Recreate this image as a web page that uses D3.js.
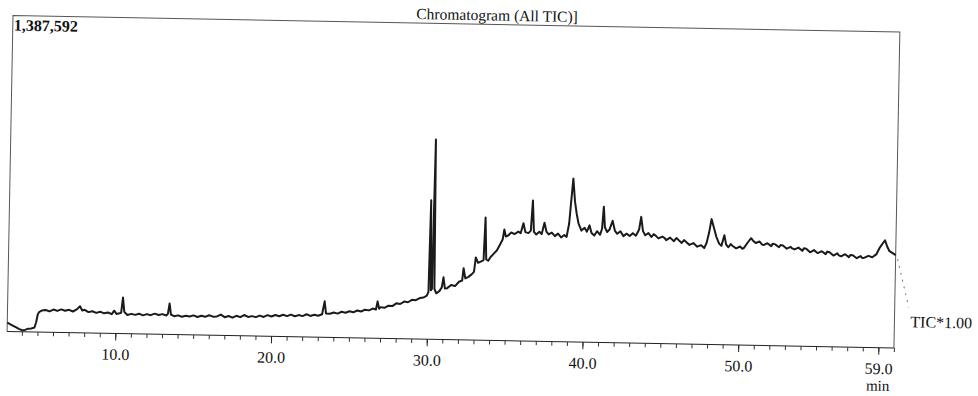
<!DOCTYPE html>
<html>
<head>
<meta charset="utf-8">
<script src="https://cdn.jsdelivr.net/npm/d3@7"></script>
<style>
  body { margin: 0; background: #fff; }
  text { font-family: "Liberation Serif", "Times New Roman", serif; fill: #111; }
</style>
</head>
<body>
<svg id="chart" width="978" height="396"></svg>
<script>
// chart texts
const title = 'Chromatogram (All TIC)]';
const yMaxLabel = '1,387,592';
const traceLabel = 'TIC*1.00';
const unitLabel = 'min';

// x axis (retention time, min)
const xDomain = [3.05, 60.0];
const majorTicks = [10, 20, 30, 40, 50, 59];
const minorTicks = d3.range(4, 61);

// TIC trace: [retention time (min), intensity (% of 1,387,592)]
const tic = [
  [3.05,2.8],[3.2,2.4],[3.4,1.9],[3.6,1.4],[3.8,0.9],[4.0,0.5],[4.2,0.6],[4.4,1.0],[4.6,1.1],[4.8,1.4],
  [4.9,3.0],[5.0,5.6],[5.1,6.4],[5.25,6.8],[5.5,7.0],[5.75,6.6],[6.0,7.2],[6.25,6.8],[6.5,7.3],[6.75,6.9],
  [7.0,7.2],[7.25,6.7],[7.5,7.4],[7.7,8.4],[7.85,7.1],[8.0,7.3],[8.25,6.6],[8.5,6.9],[8.75,6.4],[9.0,6.8],
  [9.25,6.3],[9.5,6.6],[9.75,6.1],[9.9,7.2],[10.05,6.2],[10.25,6.4],[10.35,6.6],[10.45,11.4],[10.55,6.9],[10.75,5.9],
  [11.0,6.3],[11.25,6.0],[11.5,6.4],[11.75,5.9],[12.0,6.3],[12.25,6.0],[12.5,6.5],[12.75,6.1],[13.0,6.4],[13.25,6.0],
  [13.35,6.5],[13.45,9.8],[13.55,6.3],[13.75,5.8],[14.0,6.1],[14.25,5.7],[14.5,6.0],[14.75,5.8],[15.0,6.2],[15.25,5.7],
  [15.5,6.1],[15.75,5.8],[16.0,6.3],[16.25,5.9],[16.5,6.0],[16.75,6.6],[17.0,5.8],[17.25,6.2],[17.5,5.7],[17.75,6.3],
  [18.0,5.9],[18.25,6.6],[18.5,6.0],[18.75,6.3],[19.0,6.0],[19.25,6.5],[19.5,6.1],[19.75,6.7],[20.0,6.3],[20.25,6.8],
  [20.5,6.4],[20.75,6.9],[21.0,6.5],[21.25,7.0],[21.5,6.5],[21.75,6.9],[22.0,6.6],[22.25,7.2],[22.5,6.7],[22.75,7.1],
  [23.0,6.8],[23.25,7.3],[23.4,11.4],[23.5,7.6],[23.75,7.5],[24.0,7.9],[24.25,7.6],[24.5,8.2],[24.75,7.9],[25.0,8.4],
  [25.25,8.1],[25.5,8.7],[25.75,8.4],[26.0,9.0],[26.25,8.8],[26.5,9.4],[26.7,9.1],[26.8,11.7],[26.9,9.4],[27.0,9.9],
  [27.25,9.7],[27.5,10.4],[27.75,10.3],[28.0,11.2],[28.25,11.0],[28.5,11.8],[28.75,11.6],[29.0,12.4],[29.25,12.3],[29.5,13.0],
  [29.75,13.2],[29.95,13.8],[30.05,15.0],[30.12,44.0],[30.2,15.5],[30.27,16.0],[30.35,63.3],[30.43,16.0],[30.55,14.6],[30.75,15.3],
  [30.9,16.5],[31.0,19.7],[31.1,16.2],[31.25,16.3],[31.5,17.3],[31.75,17.0],[32.0,18.4],[32.2,18.8],[32.28,22.7],[32.4,19.5],
  [32.6,20.0],[32.8,20.8],[32.95,21.6],[33.05,26.2],[33.2,24.5],[33.4,25.0],[33.55,25.4],[33.63,38.9],[33.72,25.6],[33.85,25.2],
  [34.0,26.4],[34.2,27.5],[34.4,28.6],[34.6,30.5],[34.75,32.0],[34.85,35.2],[34.95,33.0],[35.1,33.3],[35.3,34.3],[35.5,33.8],
  [35.75,34.6],[35.9,34.1],[36.07,37.3],[36.2,34.5],[36.4,34.2],[36.55,35.0],[36.65,44.5],[36.75,34.6],[36.9,33.8],[37.1,34.7],
  [37.25,34.0],[37.42,37.6],[37.55,34.8],[37.7,33.9],[37.9,34.5],[38.1,33.4],[38.3,34.2],[38.5,33.0],[38.7,33.8],[38.85,33.2],
  [39.0,37.4],[39.1,44.0],[39.22,51.7],[39.35,44.5],[39.47,40.7],[39.6,37.6],[39.8,35.3],[40.0,36.2],[40.15,35.0],[40.31,37.0],
  [40.45,34.6],[40.63,33.8],[40.8,35.2],[41.0,34.1],[41.12,36.0],[41.21,43.0],[41.3,36.5],[41.45,35.0],[41.6,35.8],[41.79,38.6],
  [41.95,35.4],[42.1,34.5],[42.3,35.3],[42.5,33.8],[42.7,34.6],[42.9,33.9],[43.1,34.8],[43.3,34.0],[43.5,36.0],[43.62,40.0],
  [43.75,35.5],[43.9,34.2],[44.1,34.9],[44.3,33.7],[44.45,34.6],[44.6,34.0],[44.75,33.3],[45.0,33.9],[45.15,33.4],[45.25,32.8],
  [45.5,33.6],[45.75,32.5],[45.9,33.5],[46.0,33.1],[46.25,32.0],[46.4,32.9],[46.5,32.5],[46.75,31.4],[47.0,32.0],[47.1,31.6],
  [47.25,30.9],[47.5,31.4],[47.7,30.5],[47.85,32.2],[48.0,35.5],[48.14,39.7],[48.3,37.0],[48.46,34.2],[48.65,32.0],[48.8,31.3],
  [48.98,34.7],[49.1,31.8],[49.25,30.9],[49.4,31.9],[49.5,31.4],[49.75,30.6],[50.0,31.2],[50.15,30.5],[50.25,30.8],[50.5,32.6],
  [50.7,33.9],[50.85,33.0],[51.0,32.4],[51.25,32.9],[51.4,32.0],[51.5,31.8],[51.75,32.4],[52.0,31.5],[52.1,32.3],[52.25,32.1],
  [52.5,31.2],[52.6,31.9],[52.75,31.8],[53.0,30.8],[53.25,31.4],[53.35,30.9],[53.5,30.6],[53.75,31.2],[54.0,30.2],[54.1,31.0],
  [54.25,30.9],[54.5,29.8],[54.75,30.5],[54.9,29.9],[55.0,29.6],[55.25,30.2],[55.5,29.3],[55.6,30.1],[55.75,29.9],[56.0,28.9],
  [56.25,29.6],[56.35,29.0],[56.5,28.7],[56.75,29.4],[57.0,28.5],[57.1,29.2],[57.25,29.1],[57.5,28.2],[57.75,28.9],[57.85,28.3],
  [58.0,28.4],[58.25,29.0],[58.5,28.6],[58.75,29.5],[58.95,31.5],[59.15,33.0],[59.3,34.0],[59.45,32.0],[59.6,30.6],[59.8,30.0],
  [60.0,29.4]
];

// plot frame (the scanned page is tilted slightly)
const width = 887, height = 316;
const svg = d3.select('#chart');
const g = svg.append('g').attr('transform', 'translate(13,15.5) rotate(1.07)');

const x = d3.scaleLinear().domain(xDomain).range([0, width]);
const y = d3.scaleLinear().domain([0, 100]).range([height, 0]);

// left, top, right borders
g.append('path')
    .attr('d', `M0,${height}V0H${width}V${height}`)
    .attr('fill', 'none')
    .attr('stroke', '#555')
    .attr('stroke-width', 1);

// minor ticks every minute
g.append('g')
    .attr('transform', 'translate(0,' + height + ')')
    .call(d3.axisBottom(x).tickValues(minorTicks).tickSize(4).tickFormat(''))
    .call(a => a.select('.domain').remove())
    .selectAll('line').attr('stroke', '#333');

// major ticks + labels
const xAxis = g.append('g')
    .attr('transform', 'translate(0,' + height + ')')
    .call(d3.axisBottom(x).tickValues(majorTicks).tickSize(7).tickPadding(8).tickFormat(d3.format('.1f')));
xAxis.select('.domain').attr('stroke', '#222').attr('d', `M0,0H${width}`);
xAxis.selectAll('line').attr('stroke', '#222');
xAxis.selectAll('text').attr('font-size', 16).attr('fill', '#111')
    .style('font-family', '"Liberation Serif", serif');

// unit under the last label
g.append('text')
    .attr('x', x(59)).attr('y', height + 43)
    .attr('text-anchor', 'middle').attr('font-size', 15)
    .text(unitLabel);

// title
g.append('text')
    .attr('x', 484).attr('y', -4)
    .attr('text-anchor', 'middle').attr('font-size', 15.5)
    .text(title);

// full-scale value
g.append('text')
    .attr('x', 1).attr('y', 15)
    .attr('font-size', 16).attr('font-weight', 'bold')
    .text(yMaxLabel);

// TIC trace
const line = d3.line().x(d => x(d[0])).y(d => y(d[1]));
g.append('path')
    .datum(tic)
    .attr('d', line)
    .attr('fill', 'none')
    .attr('stroke', '#1a1a1a')
    .attr('stroke-width', 2)
    .attr('stroke-linejoin', 'round');

// leader to the trace label
const last = tic[tic.length - 1];
g.append('line')
    .attr('x1', x(last[0]) + 2).attr('y1', y(last[1]) + 4)
    .attr('x2', width + 14).attr('y2', y(last[1]) + 52)
    .attr('stroke', '#777').attr('stroke-dasharray', '2,5');

g.append('text')
    .attr('x', width + 16).attr('y', height - 21)
    .attr('font-size', 16)
    .text(traceLabel);
</script>
</body>
</html>
